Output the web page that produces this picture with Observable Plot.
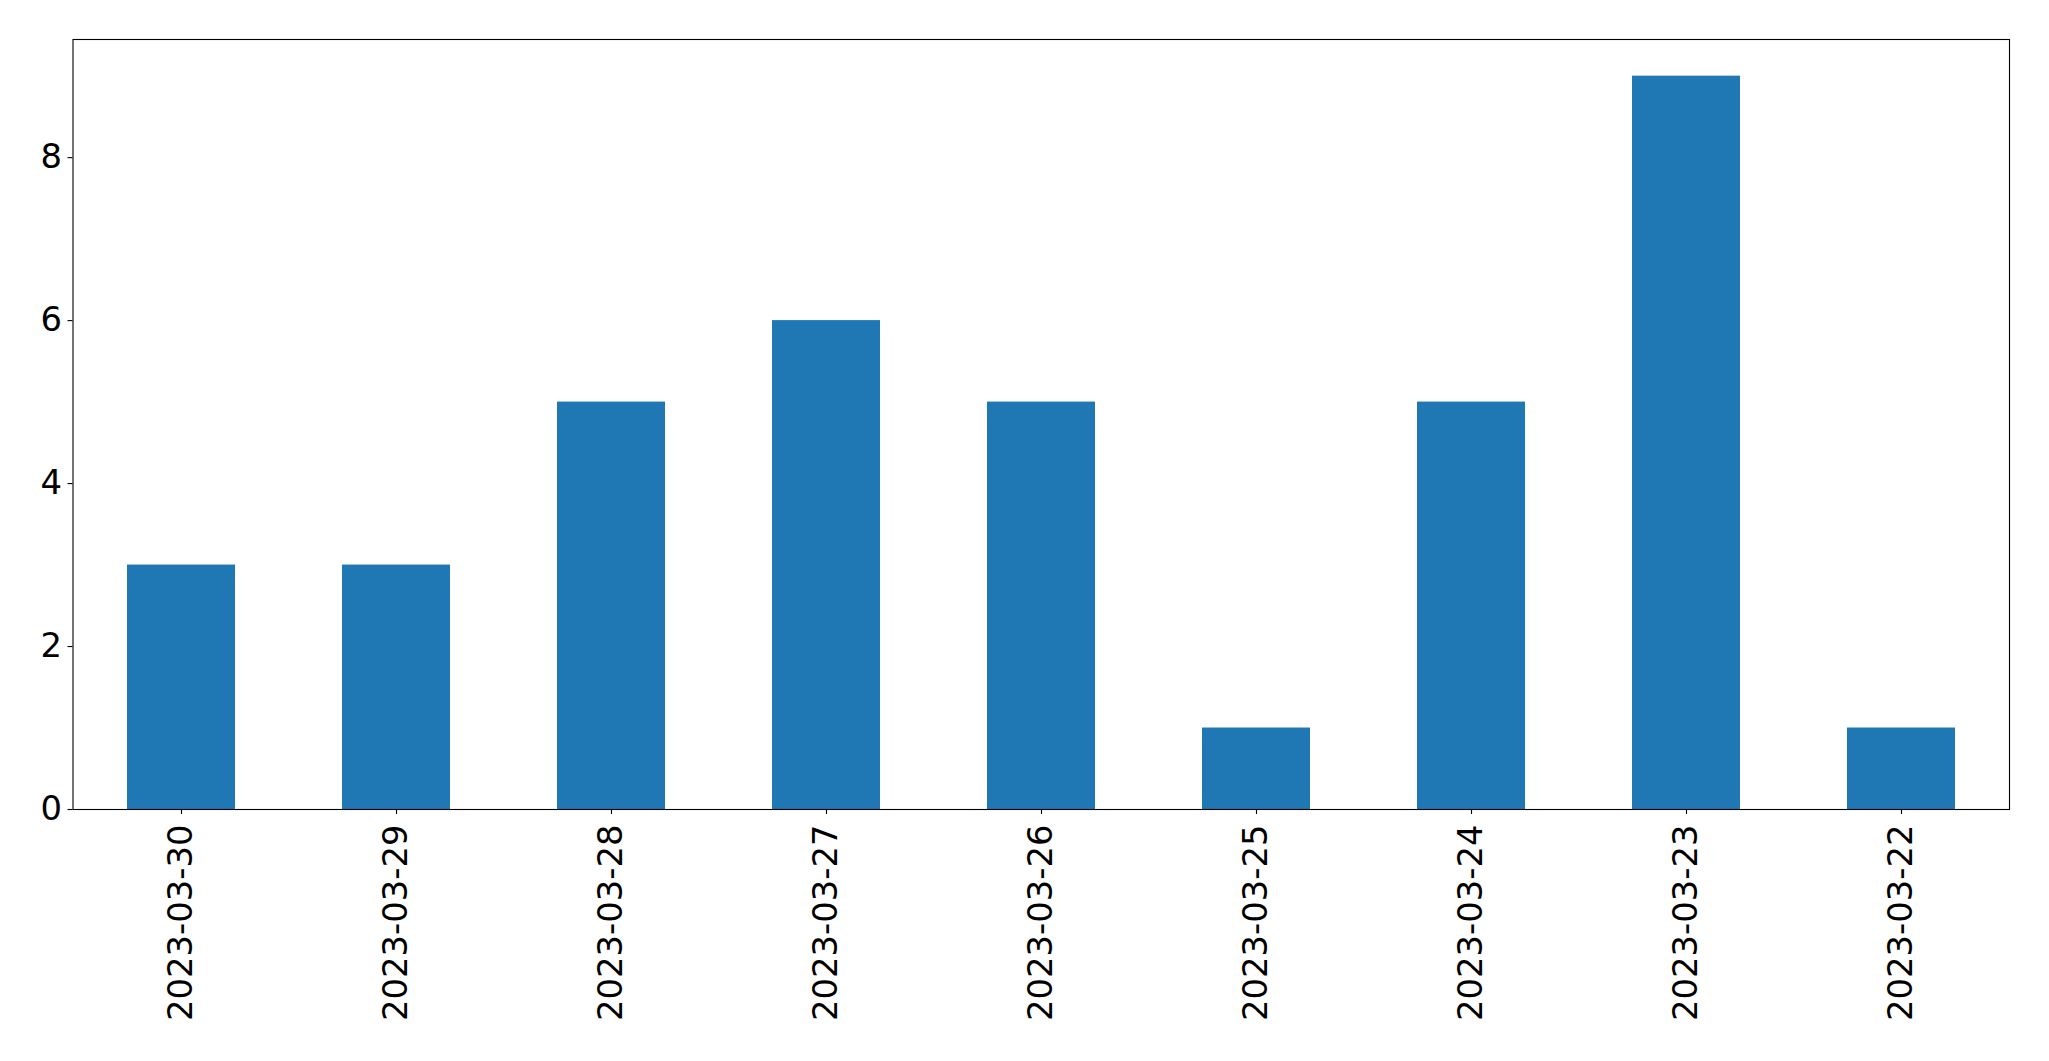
<!DOCTYPE html>
<html>
<head>
<meta charset="utf-8">
<script src="https://cdn.jsdelivr.net/npm/d3@7"></script>
<script src="https://cdn.jsdelivr.net/npm/@observablehq/plot@0.6"></script>
<style>
  html, body { margin: 0; padding: 0; background: #fff; }
  #chart svg { display: block; }
  #chart svg text { font-family: "DejaVu Sans", sans-serif !important; font-size: 33.8px !important; fill: #000; }
</style>
</head>
<body>
<div id="chart"></div>
<script>
const dates = ["2023-03-30", "2023-03-29", "2023-03-28", "2023-03-27", "2023-03-26", "2023-03-25", "2023-03-24", "2023-03-23", "2023-03-22"];
const counts = [3, 3, 5, 6, 5, 1, 5, 9, 1];
const yTicks = [0, 2, 4, 6, 8];

const data = dates.map((d, i) => ({date: d, count: counts[i]}));

const chart = Plot.plot({
  width: 2049,
  height: 1061,
  marginLeft: 72.5,
  marginRight: 40,
  marginTop: 39,
  marginBottom: 252,
  style: {fontFamily: "'DejaVu Sans', sans-serif", fontSize: "33.8px", color: "#000", background: "#fff"},
  x: {domain: dates, paddingInner: 0.5, paddingOuter: 0.25},
  y: {domain: [0, 9.45]},
  marks: [
    Plot.barY(data, {x: "date", y: "count", fill: "#1f77b4"}),
    Plot.frame({stroke: "#000", strokeWidth: 1.1}),
    Plot.axisY({ticks: yTicks, tickSize: 5, tickPadding: 6, label: null, stroke: "#000", strokeWidth: 1.1}),
    Plot.axisX({tickSize: 5, tickPadding: 10, tickRotate: -90, label: null, stroke: "#000", strokeWidth: 1.1})
  ]
});
document.getElementById("chart").appendChild(chart);
</script>
</body>
</html>
